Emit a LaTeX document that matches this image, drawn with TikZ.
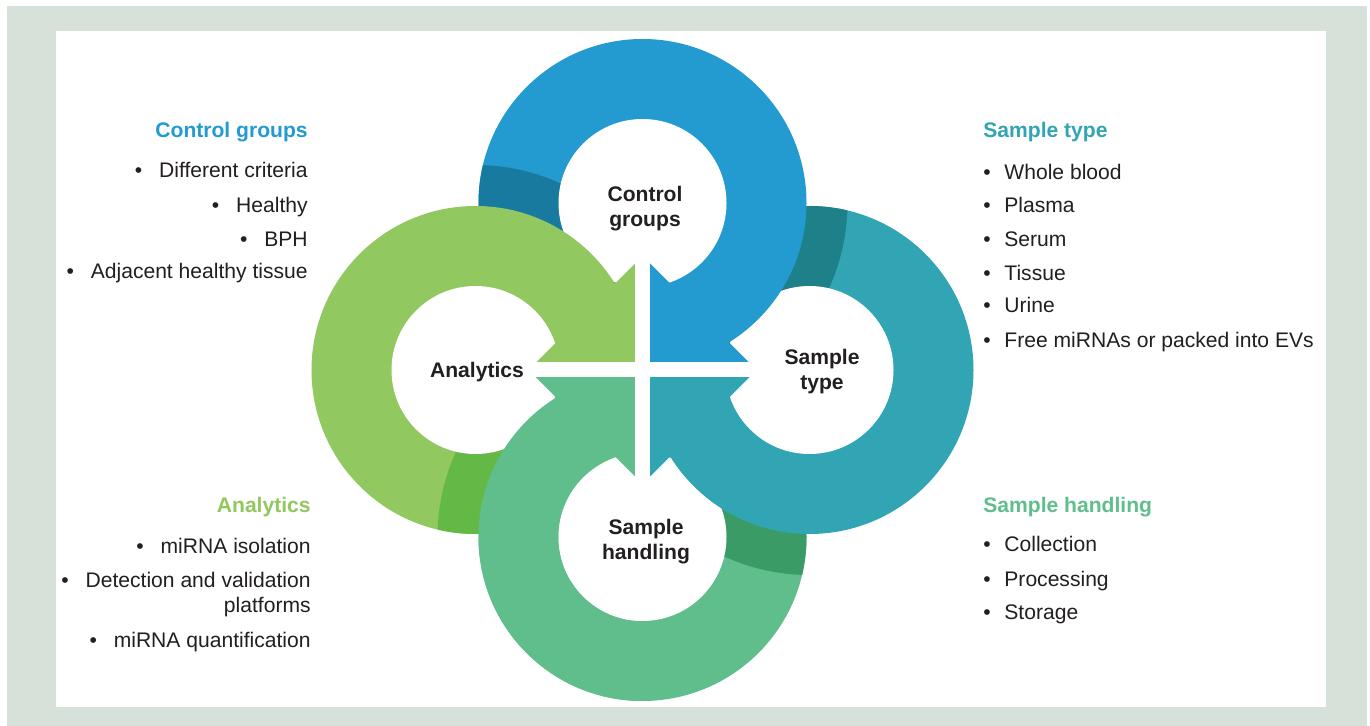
\documentclass[tikz,border=0pt]{standalone}
\usepackage{fontspec}
\setmainfont{Liberation Sans}
\usetikzlibrary{positioning}

\definecolor{framegray}{HTML}{D6E1D9}
\definecolor{ink}{HTML}{231F20}
\definecolor{control}{HTML}{249BD0}
\definecolor{controldark}{HTML}{197AA0}
\definecolor{stype}{HTML}{32A5B4}
\definecolor{stypedark}{HTML}{1E8089}
\definecolor{handling}{HTML}{60BE8C}
\definecolor{handlingdark}{HTML}{3A9B66}
\definecolor{analytics}{HTML}{91C860}
\definecolor{analyticsdark}{HTML}{64B946}

\tikzset{
  item/.style = {font=\fontsize{12}{14.2}\selectfont, text=ink, inner sep=0pt},
  head/.style = {font=\fontsize{12}{14.2}\selectfont\bfseries, inner sep=0pt},
  hub/.style  = {font=\fontsize{12}{14.2}\selectfont\bfseries, text=ink, align=center, inner sep=0pt},
}
\newcommand{\bul}{\textbullet\hspace{0.8em}}
\newcommand{\rbul}{\textbullet\hspace{0.65em}}

\begin{document}
\begin{tikzpicture}[x=0.02cm, y=0.02cm, yscale=-1]
    \useasboundingbox (0,0) rectangle (1370,726);
    \fill[framegray] (7,6) rectangle (1367,726);
    \fill[white] (56,31) rectangle (1326,707);

    \coordinate (c)   at (642.5,370);
    \coordinate (top) at (642.5,203);
    \coordinate (rgt) at (809.5,370);
    \coordinate (bot) at (642.5,537);
    \coordinate (lft) at (475.5,370);

    % sample handling ring
    \fill[handling] (bot) circle (164);
    \begin{scope}
        \clip (bot) circle (164);
        \fill[handlingdark] (rgt) circle (205);
    \end{scope}
    \fill[white] (bot) circle (84);

    % sample type ring
    \fill[stype] (rgt) circle (164);
    \begin{scope}
        \clip (rgt) circle (164);
        \fill[stypedark] (top) circle (205);
    \end{scope}
    \fill[white] (rgt) circle (84);

    % control groups ring
    \fill[control] (top) circle (164);
    \begin{scope}
        \clip (top) circle (164);
        \fill[controldark] (lft) circle (205);
    \end{scope}
    \fill[white] (top) circle (84);

    % analytics ring
    \fill[analytics] (lft) circle (164);
    \begin{scope}
        \clip (lft) circle (164);
        \fill[analyticsdark] (bot) circle (205);
    \end{scope}
    \fill[white] (lft) circle (84);

    % handling passes over analytics
    \begin{scope}
        \clip (0,370) rectangle (643.5,726);
        \fill[handling, even odd rule] (bot) circle (164) (bot) circle (84);
        \fill[white] (bot) circle (84);
    \end{scope}

    % arrow heads in the middle
    \fill[analytics] (c) -- (642.5,256) -- (528.5,370) -- cycle;
    \fill[control]   (c) -- (642.5,256) -- (756.5,370) -- cycle;
    \fill[stype]     (c) -- (756.5,370) -- (642.5,484) -- cycle;
    \fill[handling]  (c) -- (642.5,484) -- (528.5,370) -- cycle;
    \fill[white] (635,250) rectangle (650,490);
    \fill[white] (522,362.5) rectangle (763,377.5);

    \node [hub] (cgname) at (645,208.5) {Control\\groups};
    \node [hub] (stname) at (822,372) {Sample\\type};
    \node [hub] (anname) at (477,372) {Analytics};
    \node [hub] (shname) at (646,542) {Sample\\handling};

    \node [head, text=control, anchor=base east] (cghead) at (308,138) {Control groups};
    \node [item, anchor=base east] (cg1) at (308,178) {\bul Different criteria};
    \node [item, anchor=base east] (cg2) at (308,213) {\bul Healthy};
    \node [item, anchor=base east] (cg3) at (308,247) {\bul BPH};
    \node [item, anchor=base east] (cg4) at (308,279) {\bul Adjacent healthy tissue};

    \node [head, text=analytics, anchor=base east] (anhead) at (311,512) {Analytics};
    \node [item, anchor=base east] (an1)  at (311,553) {\bul miRNA isolation};
    \node [item, anchor=base east] (an2)  at (311,587) {\bul Detection and validation};
    \node [item, anchor=base east] (an2b) at (311,612) {platforms};
    \node [item, anchor=base east] (an3)  at (311,647) {\bul miRNA quantification};

    \node [head, text=stype, anchor=base west] (sthead) at (983,138) {Sample type};
    \node [item, anchor=base west] (st1) at (983,180) {\rbul Whole blood};
    \node [item, anchor=base west] (st2) at (983,213) {\rbul Plasma};
    \node [item, anchor=base west] (st3) at (983,247) {\rbul Serum};
    \node [item, anchor=base west] (st4) at (983,281) {\rbul Tissue};
    \node [item, anchor=base west] (st5) at (983,313) {\rbul Urine};
    \node [item, anchor=base west] (st6) at (983,348) {\rbul Free miRNAs or packed into EVs};

    \node [head, text=handling, anchor=base west] (shhead) at (983,512) {Sample handling};
    \node [item, anchor=base west] (sh1) at (983,551) {\rbul Collection};
    \node [item, anchor=base west] (sh2) at (983,586) {\rbul Processing};
    \node [item, anchor=base west] (sh3) at (983,619) {\rbul Storage};
\end{tikzpicture}
\end{document}
